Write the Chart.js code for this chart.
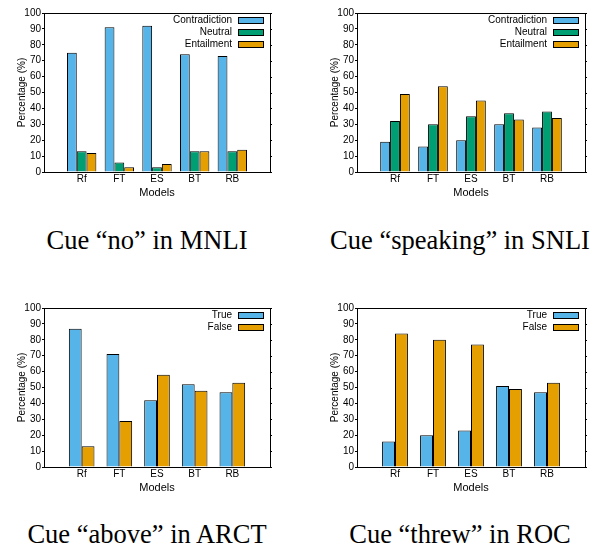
<!DOCTYPE html>
<html><head><meta charset="utf-8">
<script src="https://cdn.jsdelivr.net/npm/chart.js@4/dist/chart.umd.min.js"></script>
<style>
html,body{margin:0;padding:0;background:#fff;}
body{width:597px;height:547px;position:relative;overflow:hidden;}
canvas{position:absolute;}
.cap{position:absolute;font-family:"Liberation Serif","Times New Roman",serif;font-size:26.5px;line-height:30px;white-space:nowrap;transform:translateX(-50%);color:#000;}
</style></head><body>
<canvas id="c1" width="300" height="210" style="left:0;top:0"></canvas>
<canvas id="c2" width="297" height="210" style="left:300px;top:0"></canvas>
<canvas id="c3" width="300" height="210" style="left:0;top:295px"></canvas>
<canvas id="c4" width="297" height="210" style="left:300px;top:295px"></canvas>
<div class="cap" style="left:147px;top:225px">Cue “no” in MNLI</div>
<div class="cap" style="left:460px;top:225px">Cue “speaking” in SNLI</div>
<div class="cap" style="left:147px;top:519px">Cue “above” in ARCT</div>
<div class="cap" style="left:460px;top:519px">Cue “threw” in ROC</div>
<script>
const models = ['Rf','FT','ES','BT','RB'];
const yTicks = [0,10,20,30,40,50,60,70,80,90,100];
const nliNames = ['Contradiction','Neutral','Entailment'];
const tfNames = ['True','False'];
const mnliContradiction = [75,91,92,74,73];
const mnliNeutral = [13,6,3,13,13];
const mnliEntailment = [12,3,5,13,14];
const snliContradiction = [19,16,20,30,28];
const snliNeutral = [32,30,35,37,38];
const snliEntailment = [49,54,45,33,34];
const arctTrue = [87,71,42,52,47];
const arctFalse = [13,29,58,48,53];
const rocTrue = [16,20,23,51,47];
const rocFalse = [84,80,77,49,53];
const BLUE='#56B4E9', GREEN='#009E73', ORANGE='#E69F00';

Chart.defaults.font.family = '"Liberation Sans", Arial, sans-serif';
Chart.defaults.color = '#000';

const framePlugin = {
  id:'frame',
  afterDraw(chart){
    const {ctx, chartArea:a, scales} = chart;
    ctx.save();
    ctx.strokeStyle='#000'; ctx.lineWidth=1;
    ctx.beginPath();
    yTicks.forEach(v=>{
      const y = Math.round(scales.y.getPixelForValue(v))+0.5;
      ctx.moveTo(a.right, y); ctx.lineTo(a.right+2, y);
    });
    ctx.stroke();
    ctx.strokeRect(Math.round(a.left)+0.5, Math.round(a.top)+0.5, Math.round(a.right-a.left), Math.round(a.bottom-a.top));
    ctx.font = '10px "Liberation Sans", Arial, sans-serif';
    ctx.textAlign='right'; ctx.textBaseline='middle';
    chart.data.datasets.forEach((ds,i)=>{
      const cy = a.top + 7 + 12*i;
      ctx.fillStyle='#000';
      ctx.fillText(ds.label, a.right-38, cy);
      const bx = Math.round(a.right-32)+0.5, by = Math.round(cy-3)+0.5;
      ctx.fillStyle = ds.backgroundColor;
      ctx.fillRect(bx, by, 25, 6);
      ctx.strokeRect(bx, by, 25, 6);
    });
    ctx.restore();
  }
};

function makeChart(id, names, series, colors, catPct, padLeft, padRight){
  const labels = [''].concat(models, ['']);
  const datasets = series.map((vals,i)=>({
    label: names[i],
    data: [null].concat(vals, [null]),
    backgroundColor: colors[i],
    borderColor: '#000',
    borderWidth: 1,
    categoryPercentage: catPct,
    barPercentage: 1.0
  }));
  return new Chart(document.getElementById(id), {
    type:'bar',
    data:{labels, datasets},
    options:{
      responsive:false, animation:false,
      layout:{padding:{left:padLeft, right:padRight, top:13, bottom:0}},
      plugins:{legend:{display:false}, tooltip:{enabled:false}},
      scales:{
        x:{
          type:'category', offset:false,
          grid:{display:false, drawTicks:false, tickLength:0},
          border:{display:true, color:'#000', width:1},
          ticks:{color:'#000', font:{size:10}, padding:1, maxRotation:0, autoSkip:false},
          title:{display:true, text:'Models', color:'#000', font:{size:11}, padding:{top:0,bottom:10}},
          afterFit(s){ s.height = 38; }
        },
        y:{
          min:0, max:100,
          afterBuildTicks(s){ s.ticks = yTicks.map(v=>({value:v})); },
          ticks:{color:'#000', font:{size:10}, padding:1},
          grid:{drawOnChartArea:false, drawTicks:true, tickLength:2, color:'#000'},
          border:{display:true, color:'#000', width:1},
          title:{display:true, text:'Percentage (%)', color:'#000', font:{size:10}, padding:{top:16, bottom:0}},
          afterFit(s){ s.width = 44; }
        }
      }
    },
    plugins:[framePlugin]
  });
}

makeChart('c1', nliNames, [mnliContradiction, mnliNeutral, mnliEntailment], [BLUE,GREEN,ORANGE], 0.78, 0, 30);
makeChart('c2', nliNames, [snliContradiction, snliNeutral, snliEntailment], [BLUE,GREEN,ORANGE], 0.78, 13, 12);
makeChart('c3', tfNames, [arctTrue, arctFalse], [BLUE,ORANGE], 0.68, 0, 30);
makeChart('c4', tfNames, [rocTrue, rocFalse], [BLUE,ORANGE], 0.68, 13, 12);
</script>
</body></html>
